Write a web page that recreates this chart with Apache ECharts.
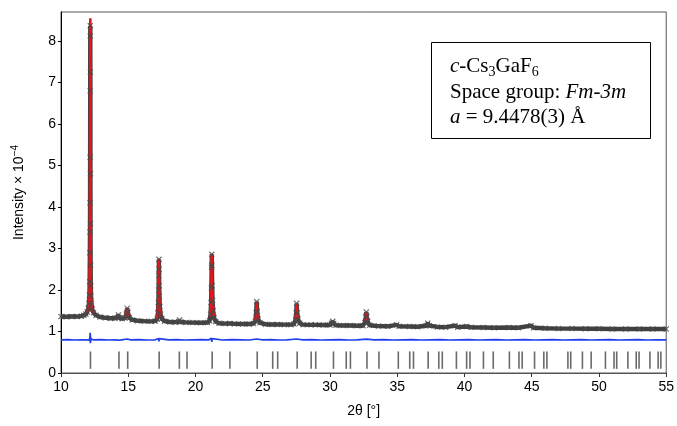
<!DOCTYPE html>
<html>
<head>
<meta charset="utf-8">
<script src="https://cdn.jsdelivr.net/npm/echarts@6/dist/echarts.min.js"></script>
<style>html,body{margin:0;padding:0;background:#fff;}#c{width:677px;height:426px;}</style>
</head>
<body>
<div id="c"></div>
<script>
// ---- data (2θ in degrees, intensity ×10^-4) ----
const xTicks = [10, 15, 20, 25, 30, 35, 40, 45, 50, 55];
const yTicks = [0, 1, 2, 3, 4, 5, 6, 7, 8];

const obsX = [10.0,10.4,10.8,11.2,11.5,11.7,11.85,11.95,12.03,12.08,12.11,12.13,12.145,12.155,12.16,12.165,12.17,12.175,12.18,12.185,12.19,12.195,12.205,12.215,12.23,12.26,12.32,12.42,12.6,12.9,13.3,13.7,14.0,14.18,14.27,14.34,14.55,14.75,14.86,14.92,14.98,15.08,15.3,15.7,16.2,16.7,17.0,17.15,17.21,17.24,17.26,17.27,17.28,17.29,17.30,17.32,17.35,17.4,17.5,17.7,18.1,18.5,18.75,18.82,18.9,19.3,19.8,20.4,20.9,21.05,21.12,21.16,21.18,21.2,21.21,21.22,21.24,21.27,21.31,21.38,21.5,21.75,22.2,22.55,22.9,23.5,24.0,24.3,24.45,24.51,24.55,24.59,24.65,24.8,25.2,25.7,26.1,26.6,27.1,27.32,27.44,27.49,27.52,27.56,27.62,27.75,28.0,28.6,28.9,29.5,30.0,30.12,30.2,30.28,30.45,31.0,31.5,32.0,32.45,32.6,32.66,32.7,32.74,32.8,32.95,33.6,34.3,34.95,35.15,35.9,36.5,37.15,37.27,37.38,38.0,38.6,39.3,39.5,40.15,40.5,41.4,42.2,43.3,44.0,44.95,45.15,46.0,47.0,48.0,49.0,50.0,51.0,52.0,53.0,54.0,55.0];
const obsY = [1.36,1.355,1.36,1.36,1.37,1.39,1.42,1.47,1.56,1.68,1.88,2.2,2.9,3.4,4.1,5.2,6.8,8.12,8.37,7.25,4.8,3.6,2.6,2.1,1.85,1.68,1.54,1.45,1.39,1.35,1.33,1.32,1.32,1.34,1.40,1.33,1.31,1.33,1.42,1.56,1.46,1.33,1.28,1.26,1.25,1.245,1.25,1.30,1.45,1.7,2.0,2.35,2.74,2.5,2.1,1.85,1.6,1.42,1.31,1.25,1.23,1.225,1.24,1.28,1.23,1.22,1.215,1.21,1.215,1.26,1.42,1.7,2.05,2.55,2.86,2.6,2.1,1.75,1.5,1.33,1.24,1.2,1.19,1.195,1.185,1.18,1.18,1.19,1.25,1.45,1.72,1.48,1.3,1.21,1.175,1.17,1.17,1.165,1.165,1.18,1.28,1.45,1.68,1.45,1.3,1.2,1.165,1.16,1.16,1.155,1.155,1.2,1.245,1.19,1.15,1.145,1.145,1.14,1.14,1.22,1.35,1.47,1.36,1.24,1.15,1.13,1.125,1.16,1.125,1.12,1.115,1.14,1.2,1.14,1.11,1.105,1.14,1.105,1.12,1.1,1.095,1.09,1.095,1.09,1.14,1.09,1.08,1.07,1.07,1.065,1.065,1.06,1.06,1.06,1.06,1.06];

// calculated profile near the reflections (null = gap)
const calcX = [11.9,12.05,12.12,12.15,12.165,12.175,12.18,12.185,12.195,12.21,12.24,12.3,12.45,12.46,
  14.8,14.92,15.02,15.03,
  17.15,17.24,17.27,17.28,17.3,17.35,17.45,17.46,
  21.1,21.17,21.2,21.21,21.23,21.27,21.35,21.36,
  24.45,24.51,24.55,24.59,24.66,24.67,
  27.44,27.52,27.6,27.61,
  32.62,32.7,32.78];
const calcY = [1.44,1.6,1.95,3.0,5.0,7.8,8.55,7.6,4.0,2.3,1.8,1.57,1.44,null,
  1.35,1.55,1.38,null,
  1.3,1.72,2.4,2.76,2.1,1.6,1.36,null,
  1.36,1.85,2.6,2.88,2.3,1.75,1.38,null,
  1.25,1.45,1.7,1.48,1.28,null,
  1.28,1.66,1.33,null,
  1.26,1.46,1.26];

const diffX = [10,10.5,11,11.5,11.9,12.1,12.15,12.17,12.18,12.19,12.21,12.25,12.4,13,13.5,14,14.3,14.5,14.92,14.96,15.2,15.8,16.4,17.0,17.25,17.28,17.31,17.4,18,18.6,19.2,19.8,20.4,21.0,21.18,21.21,21.24,21.35,22,22.7,23.4,24,24.55,24.6,25,25.6,26.2,26.8,27.5,27.55,28,28.6,29.3,30,30.7,31.4,32,32.7,32.75,33.3,34,34.7,35.4,36.1,36.8,37.5,38.2,38.9,39.6,40.3,41,41.7,42.4,43.1,43.8,44.5,45.2,45.9,46.6,47.3,48,48.7,49.4,50.1,50.8,51.5,52.2,52.9,53.6,54.3,55];
const diffY = [0.80,0.805,0.795,0.80,0.80,0.79,0.86,0.97,0.72,0.90,0.76,0.82,0.80,0.805,0.795,0.80,0.79,0.80,0.82,0.78,0.80,0.805,0.795,0.80,0.83,0.76,0.83,0.80,0.80,0.805,0.795,0.80,0.805,0.80,0.84,0.75,0.83,0.80,0.795,0.805,0.80,0.795,0.82,0.79,0.80,0.805,0.795,0.80,0.82,0.785,0.80,0.805,0.795,0.80,0.805,0.795,0.80,0.815,0.79,0.80,0.805,0.795,0.80,0.805,0.795,0.80,0.805,0.795,0.80,0.805,0.795,0.80,0.805,0.795,0.80,0.805,0.795,0.80,0.805,0.795,0.80,0.805,0.795,0.80,0.805,0.795,0.80,0.805,0.795,0.80,0.80];

// Bragg reflection positions (2θ)
const braggPos = [12.19,14.31,14.96,17.30,18.80,19.37,21.24,22.56,24.59,25.74,26.11,27.56,28.60,28.94,30.26,31.21,31.52,32.75,33.64,35.08,35.93,36.21,37.30,38.09,38.35,39.40,40.16,40.41,41.41,42.14,43.34,44.05,44.29,45.21,45.90,46.13,47.69,47.90,48.77,49.42,50.48,51.12,51.32,52.15,52.77,52.98,53.79,54.40,54.60];
const braggLow = 0.1, braggHigh = 0.52;

// ---- build ----
const zip = (xs, ys) => xs.map((x, i) => [x, ys[i] == null ? '-' : ys[i]]);
const obsData = zip(obsX, obsY);
const calcData = zip(calcX, calcY);
const diffData = zip(diffX, diffY);
const braggData = braggPos.map(p => [p, braggLow, braggHigh]);

const sans = 'Liberation Sans, Arial, sans-serif';
const serif = 'Liberation Serif, Times New Roman, serif';
const xMark = 'path://M0,1.4L1.4,0L5,3.6L8.6,0L10,1.4L6.4,5L10,8.6L8.6,10L5,6.4L1.4,10L0,8.6L3.6,5Z';

const chart = echarts.init(document.getElementById('c'), null, {renderer: 'canvas'});
chart.setOption({
  animation: false,
  backgroundColor: '#fff',
  grid: {left: 61, right: 8, top: 12, bottom: 53, show: true, borderColor: '#555', borderWidth: 1},
  xAxis: {
    type: 'value', min: xTicks[0], max: xTicks[xTicks.length - 1], interval: 5,
    name: '2θ [°]', nameLocation: 'middle', nameGap: 31,
    nameTextStyle: {fontFamily: sans, fontSize: 14, color: '#000'},
    axisLine: {show: true, lineStyle: {color: '#555', width: 1}},
    axisTick: {show: true, length: 4, lineStyle: {color: '#333'}},
    axisLabel: {fontFamily: sans, fontSize: 14, color: '#000', margin: 7},
    splitLine: {show: false}
  },
  yAxis: {
    type: 'value', min: 0, max: 8.7, interval: 1,
    name: 'Intensity × 10{sup|−4}', nameLocation: 'middle', nameGap: 33, nameRotate: 90,
    nameTextStyle: {fontFamily: sans, fontSize: 14, color: '#000',
      rich: {sup: {fontFamily: sans, fontSize: 10, verticalAlign: 'top', padding: [0, 0, 8, 0]}}},
    axisLine: {show: true, lineStyle: {color: '#000', width: 1}},
    axisTick: {show: true, length: 3, lineStyle: {color: '#000'}},
    axisLabel: {fontFamily: sans, fontSize: 14, color: '#000', margin: 5, showMaxLabel: false,
      formatter: v => (yTicks.indexOf(v) >= 0 ? String(v) : '')},
    splitLine: {show: false}
  },
  series: [
    {type: 'custom', name: 'Bragg', z: 1, data: braggData,
      renderItem: (params, api) => {
        const a = api.coord([api.value(0), api.value(1)]);
        const b = api.coord([api.value(0), api.value(2)]);
        return {type: 'line', shape: {x1: a[0], y1: a[1], x2: b[0], y2: b[1]},
          style: {stroke: '#6a6a6a', lineWidth: 1.6}};
      }},
    {type: 'line', name: 'diff', z: 2, data: diffData, showSymbol: false,
      lineStyle: {color: '#1f3fee', width: 1.7}},
    {type: 'line', name: 'obsLine', z: 3, data: obsData, showSymbol: false,
      lineStyle: {color: '#404040', width: 4.4}},
    {type: 'line', name: 'calc', z: 4, data: calcData, showSymbol: false, connectNulls: false,
      lineStyle: {color: '#e3161b', width: 2.6}},
    {type: 'scatter', name: 'obs', z: 5, data: obsData, symbol: xMark, symbolSize: 6,
      itemStyle: {color: '#4a4a4a'}}
  ],
  graphic: [
    {type: 'rect', left: 431, top: 42, z: 10,
      shape: {width: 219, height: 96},
      style: {fill: '#fff', stroke: '#000', lineWidth: 1}},
    {type: 'text', left: 450, top: 56, z: 11,
      style: {text: '{i|c}-Cs{sub|3}GaF{sub|6}', font: '21px ' + serif, fill: '#000',
        rich: {i: {fontStyle: 'italic', fontFamily: serif, fontSize: 21, lineHeight: 26, verticalAlign: 'middle'},
               sub: {fontFamily: serif, fontSize: 14, lineHeight: 26, verticalAlign: 'bottom'}}}},
    {type: 'text', left: 450, top: 82, z: 11,
      style: {text: 'Space group: {i|Fm-3m}', font: '21px ' + serif, fill: '#000',
        rich: {i: {fontStyle: 'italic', fontFamily: serif, fontSize: 21}}}},
    {type: 'text', left: 450, top: 107, z: 11,
      style: {text: '{i|a} = 9.4478(3) Å', font: '21px ' + serif, fill: '#000',
        rich: {i: {fontStyle: 'italic', fontFamily: serif, fontSize: 21}}}}
  ]
});
</script>
</body>
</html>
